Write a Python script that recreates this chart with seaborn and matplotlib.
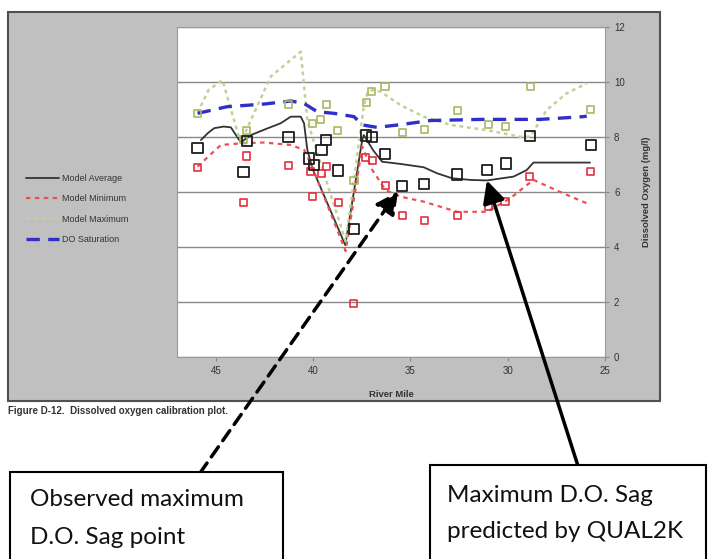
import matplotlib
matplotlib.use('Agg')
import matplotlib.pyplot as plt
from matplotlib.patches import Rectangle
import numpy as np
import seaborn as sns

# observed data (squares)
obs_avg_mile = [45.94, 43.58, 43.41, 41.27, 40.2, 39.96, 39.57, 39.35, 38.72, 37.9,
                37.3, 36.97, 36.3, 35.43, 34.31, 32.59, 31.05, 30.1, 28.84, 25.73]
obs_avg = [7.6, 6.73, 7.85, 7.99, 7.22, 6.99, 7.53, 7.89, 6.78, 4.65,
           8.06, 8.01, 7.37, 6.23, 6.29, 6.64, 6.8, 7.04, 8.04, 7.71]
obs_min_mile = [45.94, 43.58, 43.41, 41.27, 40.16, 40.04, 39.58, 39.31, 38.72, 37.92,
                37.3, 36.97, 36.3, 35.43, 34.3, 32.58, 30.98, 30.14, 28.86, 25.74]
obs_min = [6.88, 5.63, 7.31, 6.95, 6.75, 5.83, 6.68, 6.92, 5.63, 1.95,
           7.26, 7.16, 6.25, 5.15, 4.97, 5.16, 5.47, 5.65, 6.56, 6.74]
obs_max_mile = [45.94, 43.58, 43.41, 41.27, 40.04, 39.61, 39.33, 38.74, 37.9, 37.26,
                36.98, 36.31, 35.41, 34.28, 32.57, 30.98, 30.13, 28.85, 25.73]
obs_max = [8.87, 7.9, 8.25, 9.18, 8.5, 8.64, 9.18, 8.25, 6.42, 9.27,
           9.66, 9.85, 8.15, 8.28, 8.96, 8.47, 8.37, 9.85, 9.0]

# model lines
mavg_mile = [45.77, 45.4, 45.09, 44.6, 44.23, 43.97, 43.72, 43.2, 42.4, 41.67, 41.15,
             40.64, 40.47, 40.3, 40.04, 38.35, 37.48, 37.4, 36.9, 36.45, 35.51, 34.32,
             33.63, 32.86, 31.92, 31.07, 29.7, 29.02, 28.68, 25.77]
mavg = [7.89, 8.15, 8.32, 8.38, 8.35, 8.07, 7.8, 8.07, 8.3, 8.5, 8.74,
        8.74, 8.5, 7.53, 6.86, 4.07, 7.89, 8.07, 7.5, 7.1, 7.02, 6.9,
        6.68, 6.5, 6.44, 6.42, 6.56, 6.8, 7.07, 7.07]
mmin_mile = [45.94, 45.3, 44.74, 43.72, 42.52, 41.15, 40.47, 40.1, 38.33, 37.48, 36.96,
             36.28, 35.51, 34.32, 32.6, 31.07, 29.87, 29.02, 28.68, 27.14, 25.94]
mmin = [6.92, 7.35, 7.71, 7.77, 7.8, 7.71, 7.53, 7.0, 3.85, 7.65, 6.8,
        6.07, 5.83, 5.65, 5.28, 5.28, 5.77, 6.25, 6.44, 5.95, 5.59]
mmax_mile = [45.94, 45.38, 44.66, 43.8, 43.6, 42.18, 40.64, 40.3, 40.0, 38.33, 37.4,
             37.22, 36.96, 36.54, 35.51, 34.32, 32.95, 31.07, 29.36, 28.85, 28.0, 26.97, 25.94]
mmax = [8.88, 9.71, 10.07, 7.95, 8.0, 10.2, 11.1, 8.62, 7.9, 4.2, 9.1,
        9.59, 9.71, 9.65, 9.16, 8.74, 8.44, 8.25, 8.01, 8.01, 8.98, 9.59, 9.95]
sat_mile = [45.94, 44.44, 42.5, 41.15, 40.47, 39.79, 38.93, 37.9, 37.48, 36.71, 35.5,
            33.97, 31.41, 28.33, 26.11, 25.94]
sat = [8.86, 9.1, 9.2, 9.31, 9.22, 8.92, 8.86, 8.74, 8.44, 8.35, 8.45,
       8.6, 8.64, 8.64, 8.74, 8.76]

sns.set_theme(style='white')
plt.rcParams['font.family'] = ['Liberation Sans', 'DejaVu Sans']

W, H = 712, 559
fig = plt.figure(figsize=(W / 100, H / 100), dpi=100)


def fx(px):
    return px / W


def fy(py):
    return 1 - py / H


# grey chart panel
fig.patches.append(Rectangle((fx(8), fy(401)), 652 / W, 389 / H, transform=fig.transFigure,
                             facecolor='#c0c0c0', edgecolor='#505050', lw=1.5, zorder=-2))

ax = fig.add_axes([fx(177), fy(357), 428 / W, 330 / H])
ax.set_facecolor('white')

sns.lineplot(x=mavg_mile, y=mavg, sort=False, estimator=None, color='#333333', lw=1.3,
             ax=ax, label='Model Average')
sns.lineplot(x=mmin_mile, y=mmin, sort=False, estimator=None, color='#ee5050', lw=1.6,
             ls=(0, (2, 2)), ax=ax, label='Model Minimum')
sns.lineplot(x=mmax_mile, y=mmax, sort=False, estimator=None, color='#c2d296', lw=1.8,
             ls=(0, (1.5, 1.5)), ax=ax, label='Model Maximum')
sns.lineplot(x=sat_mile, y=sat, sort=False, estimator=None, color='#3030c8', lw=2.4,
             ls=(0, (4, 2.5)), ax=ax, label='DO Saturation')

sns.scatterplot(x=obs_max_mile, y=obs_max, marker='s', s=26, facecolor='none',
                edgecolor='#a8b860', linewidth=1.2, ax=ax, zorder=4)
sns.scatterplot(x=obs_min_mile, y=obs_min, marker='s', s=26, facecolor='none',
                edgecolor='#e33040', linewidth=1.2, ax=ax, zorder=4)
sns.scatterplot(x=obs_avg_mile, y=obs_avg, marker='s', s=55, facecolor='none',
                edgecolor='#1e1e1e', linewidth=1.3, ax=ax, zorder=5)

ax.set_xlim(47, 25)
ax.set_ylim(0, 12)
ax.set_xticks([45, 40, 35, 30, 25])
ax.set_yticks(range(0, 13, 2))
ax.yaxis.tick_right()
ax.yaxis.set_label_position('right')
ax.grid(axis='y', color='#888888', lw=1.0)
ax.grid(axis='x', visible=False)
ax.set_axisbelow(True)
for s in ax.spines.values():
    s.set_color('#9a9a9a')
    s.set_linewidth(0.8)
ax.tick_params(axis='both', labelsize=7, colors='#333333', length=3, width=0.8,
               direction='out', bottom=True, right=True, left=False)
ax.tick_params(axis='both', color='#888888')
ax.set_xlabel('River Mile', fontsize=6.8, fontweight='bold', color='#333333')
ax.xaxis.set_label_coords(0.5, -0.1)
ax.set_ylabel('Dissolved Oxygen (mg/l)', fontsize=6.8, fontweight='bold', color='#333333',
              rotation=90)
ax.yaxis.set_label_coords((642 - 177) / 428, 0.5)

handles, labels = ax.get_legend_handles_labels()
ax.legend(handles[:4], labels[:4], loc='center left',
          bbox_to_anchor=(fx(18), fy(209)), bbox_transform=fig.transFigure,
          frameon=False, fontsize=6.5, handlelength=3.6, labelspacing=1.25,
          handletextpad=0.4, labelcolor='#333333')

fig.text(fx(8), fy(411), 'Figure D-12.  Dissolved oxygen calibration plot.', fontsize=7,
         fontweight='bold', color='#333333', va='center')

# callout boxes
fig.patches.append(Rectangle((fx(10), fy(590)), 273 / W, 118 / H, transform=fig.transFigure,
                             facecolor='white', edgecolor='black', lw=1.5, zorder=3))
fig.patches.append(Rectangle((fx(430), fy(590)), 276 / W, 125 / H, transform=fig.transFigure,
                             facecolor='white', edgecolor='black', lw=1.5, zorder=3))
box_font = dict(fontsize=17.5, family=['Lato', 'DejaVu Sans'], color='#111111', va='center',
                zorder=4)
fig.text(fx(30), fy(500), 'Observed maximum', **box_font)
fig.text(fx(30), fy(537), 'D.O. Sag point', **box_font)
fig.text(fx(447), fy(495), 'Maximum D.O. Sag', **box_font)
fig.text(fx(447), fy(532), 'predicted by QUAL2K', **box_font)

# arrows
obs_i = 13
ax.annotate('', xy=(obs_avg_mile[obs_i], obs_avg[obs_i]), xycoords='data',
            xytext=(fx(200), fy(473)), textcoords='figure fraction',
            arrowprops=dict(arrowstyle='-|>,head_length=0.9,head_width=0.45', ls=(0, (3.5, 2.2)),
                            lw=2.5, color='black', shrinkA=0, shrinkB=5, mutation_scale=15),
            annotation_clip=False, zorder=6)
reach = np.array(mavg_mile) < 35
sag_i = int(np.argmin(np.where(reach, mavg, np.inf)))
ax.annotate('', xy=(mavg_mile[sag_i], mavg[sag_i]), xycoords='data',
            xytext=(fx(578), fy(466)), textcoords='figure fraction',
            arrowprops=dict(arrowstyle='-|>,head_length=0.9,head_width=0.45',
                            lw=2.5, color='black', shrinkA=0, shrinkB=0, mutation_scale=15),
            annotation_clip=False, zorder=6)

fig.savefig('out.png', dpi=100)
